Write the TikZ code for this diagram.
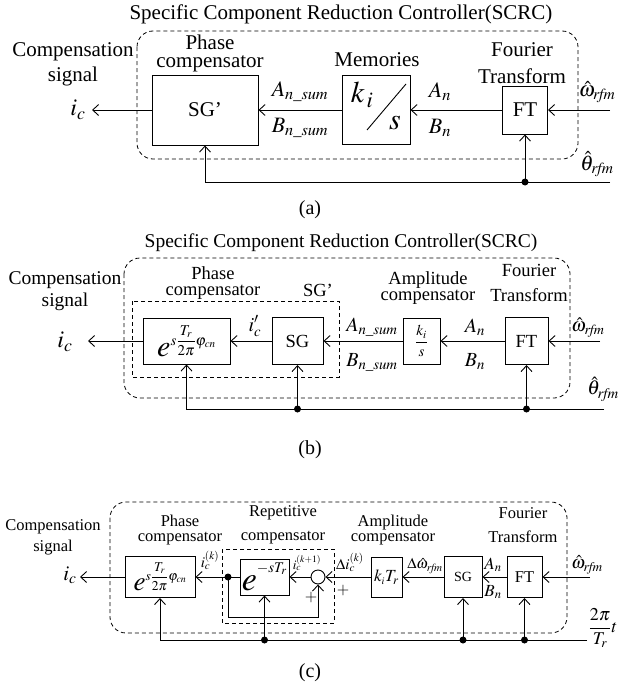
\documentclass[tikz,border=0pt]{standalone}
\usepackage{amsmath}
\usepackage{mathptmx}
\usepackage{fontspec}
\setmainfont{Liberation Serif}
\usetikzlibrary{arrows.meta}
\tikzstyle{block} = [rectangle, draw, line width=1pt, inner sep=0pt]
\tikzstyle{line} = [draw, line width=0.9pt, -{Straight Barb[length=6pt,width=11pt]}]
\tikzstyle{wire} = [draw, line width=0.9pt]
\tikzstyle{frame} = [draw, line width=0.8pt, dash pattern=on 4pt off 3pt, rounded corners=16pt]
\tikzstyle{subframe} = [draw, line width=0.8pt, dash pattern=on 4pt off 3pt]
\tikzstyle{dot} = [circle, fill, inner sep=0pt, minimum size=7pt]
\tikzstyle{lbl} = [inner sep=0pt, align=center]
\newcommand{\sizeA}{\fontsize{21}{18}\selectfont}
\newcommand{\sizeB}{\fontsize{18.5}{16}\selectfont}
\newcommand{\sizeC}{\fontsize{16.5}{15}\selectfont}
\newcommand{\sub}[1]{\mathit{#1}}

\begin{document}
\begin{tikzpicture}[x=1pt, y=-1pt]
  \useasboundingbox (0,0) rectangle (622,688);

  % ---------- (a) ----------
  \draw [frame] (137,31) rectangle (578,159);
  \node [lbl, font=\fontsize{21}{21}\selectfont] (titleA) at (341,14) {Specific Component Reduction Controller(SCRC)};
  % nodes
  \node [block, minimum width=45pt, minimum height=48pt, font=\sizeA] (ftA) at (525,110) {FT};
  \node [block, minimum width=68pt, minimum height=69pt, left of=ftA, node distance=149pt] (memA) {};
  \node [block, minimum width=106pt, minimum height=70pt, left of=memA, node distance=171pt, font=\sizeA] (sgA) {SG'};
  \node [lbl, font=\fontsize{30}{30}\selectfont] (kiA) at (362,95) {$k_{\,i}$};
  \node [lbl, font=\fontsize{30}{30}\selectfont] (sA) at (395,123) {$s$};
  \draw [wire] (367,130) -- (406,84);
  % labels
  \node [lbl, font=\fontsize{21}{25}\selectfont] (compA) at (73,64) {Compensation\\signal};
  \node [lbl, font=\sizeA] (phaseLblA) at (210,53) {Phase\\compensator};
  \node [lbl, font=\sizeA] (memLblA) at (377,60) {Memories};
  \node [lbl, font=\fontsize{21}{27}\selectfont] (fourLblA) at (522,63) {Fourier\\Transform};
  \node [lbl, font=\fontsize{24}{24}\selectfont] (icA) at (78,110) {$i_c$};
  \node [lbl, font=\fontsize{22}{22}\selectfont] (AsumA) at (300,92) {$A_{n\_\sub{sum}}$};
  \node [lbl, font=\fontsize{22}{22}\selectfont] (BsumA) at (300,128) {$B_{n\_\sub{sum}}$};
  \node [lbl, font=\fontsize{22}{22}\selectfont] (AnA) at (440,92) {$A_n$};
  \node [lbl, font=\fontsize{22}{22}\selectfont] (BnA) at (440,128) {$B_n$};
  \node [lbl, font=\fontsize{21}{21}\selectfont] (omA) at (597,92) {$\hat{\omega}_{\sub{rfm}}$};
  \node [lbl, font=\fontsize{21}{21}\selectfont] (thA) at (597,164) {$\hat{\theta}_{\sub{rfm}}$};
  \node [lbl, font=\fontsize{20}{20}\selectfont] (capA) at (310,210) {(a)};
  % edges
  \coordinate (outA) at (92,110);
  \coordinate (inA) at (610,110);
  \coordinate (angA) at (610,182);
  \coordinate (jA) at (525,182);
  \path [line] (inA) -- (ftA);
  \path [line] (ftA) -- (memA);
  \path [line] (memA) -- (sgA);
  \path [line] (sgA) -- (outA);
  \path [line] (angA) -- (sgA.south |- angA) -- (sgA.south);
  \path [line] (jA) -- (ftA.south);
  \node [dot] (dotA) at (jA) {};

  % ---------- (b) ----------
  \draw [frame] (124,258) rectangle (570,398);
  \draw [subframe] (132,301) rectangle (339,377);
  \node [lbl, font=\fontsize{19.5}{19.5}\selectfont] (titleB) at (341,243) {Specific Component Reduction Controller(SCRC)};
  % nodes
  \node [block, minimum width=43pt, minimum height=47pt, font=\sizeB] (ftB) at (526.5,341) {FT};
  \node [block, minimum width=37pt, minimum height=46pt, left of=ftB, node distance=105pt, font=\fontsize{15}{15}\selectfont] (ampB) {$\dfrac{k_i}{s}$};
  \node [block, minimum width=51pt, minimum height=47pt, left of=ampB, node distance=124pt, font=\sizeB] (sgB) {SG};
  \node [block, minimum width=87pt, minimum height=46pt, left of=sgB, node distance=111pt] (phB)
    {\raisebox{-10pt}{\fontsize{30}{30}\selectfont$e$}\raisebox{1pt}{\fontsize{15}{15}\selectfont$s\dfrac{T_r}{2\pi}\varphi_{\sub{cn}}$}};
  % labels
  \node [lbl, font=\fontsize{19.5}{22}\selectfont] (compB) at (65,291) {Compensation\\signal};
  \node [lbl, font=\sizeB] (phaseLblB) at (213,283) {Phase\\compensator};
  \node [lbl, font=\sizeB] (sgLblB) at (318,290) {SG'};
  \node [lbl, font=\sizeB] (ampLblB) at (428,288) {Amplitude\\compensator};
  \node [lbl, font=\fontsize{18.5}{25}\selectfont] (fourLblB) at (529,283) {Fourier\\Transform};
  \node [lbl, font=\fontsize{24}{24}\selectfont] (icB) at (65,342) {$i_c$};
  \node [lbl, font=\fontsize{20}{20}\selectfont] (icpB) at (255,326) {$i_c^{\prime}$};
  \node [lbl, font=\fontsize{20}{20}\selectfont] (AsumB) at (372,327) {$A_{n\_\sub{sum}}$};
  \node [lbl, font=\fontsize{20}{20}\selectfont] (BsumB) at (372,362) {$B_{n\_\sub{sum}}$};
  \node [lbl, font=\fontsize{20}{20}\selectfont] (AnB) at (475,327) {$A_n$};
  \node [lbl, font=\fontsize{20}{20}\selectfont] (BnB) at (475,362) {$B_n$};
  \node [lbl, font=\fontsize{19}{19}\selectfont] (omB) at (588,328) {$\hat{\omega}_{\sub{rfm}}$};
  \node [lbl, font=\fontsize{20}{20}\selectfont] (thB) at (603,389) {$\hat{\theta}_{\sub{rfm}}$};
  \node [lbl, font=\fontsize{20}{20}\selectfont] (capB) at (310,450) {(b)};
  % edges
  \coordinate (outB) at (88,341);
  \coordinate (inB) at (600,341);
  \coordinate (angB) at (604,409);
  \coordinate (j1B) at (sgB.south |- angB);
  \coordinate (j2B) at (ftB.south |- angB);
  \path [line] (inB) -- (ftB);
  \path [line] (ftB) -- (ampB);
  \path [line] (ampB) -- (sgB);
  \path [line] (sgB) -- (phB);
  \path [line] (phB) -- (outB);
  \path [line] (angB) -- (phB.south |- angB) -- (phB.south);
  \path [line] (j1B) -- (sgB.south);
  \path [line] (j2B) -- (ftB.south);
  \node [dot] (dot1B) at (j1B) {};
  \node [dot] (dot2B) at (j2B) {};

  % ---------- (c) ----------
  \draw [frame] (110,502) rectangle (567,633);
  \draw [subframe] (222,549) rectangle (334,623);
  % nodes
  \node [block, minimum width=35pt, minimum height=41pt, font=\sizeC] (ftC) at (524.5,577) {FT};
  \node [block, minimum width=38pt, minimum height=41pt, left of=ftC, node distance=61.5pt, font=\fontsize{14}{14}\selectfont] (sgC) {SG};
  \node [block, minimum width=31pt, minimum height=40pt, left of=sgC, node distance=76.5pt, font=\fontsize{17}{17}\selectfont] (ampC) {$k_{\scriptscriptstyle i}T_r$};
  \node [circle, draw, line width=0.9pt, inner sep=0pt, minimum size=14pt, left of=ampC, node distance=68.5pt] (sumC) {};
  \node [block, minimum width=49pt, minimum height=36pt, left of=sumC, node distance=53.5pt] (delC)
    {\raisebox{-8pt}{\fontsize{34}{34}\selectfont$e$}\raisebox{3pt}{\fontsize{20}{20}\selectfont$^{-sT_r}$}};
  \node [block, minimum width=70pt, minimum height=41pt, left of=delC, node distance=104.5pt] (phC)
    {\raisebox{-9pt}{\fontsize{27}{27}\selectfont$e$}\raisebox{1pt}{\fontsize{13.5}{13.5}\selectfont$s\dfrac{T_r}{2\pi}\varphi_{\sub{cn}}$}};
  % labels
  \node [lbl, font=\fontsize{16.5}{21}\selectfont] (compC) at (53,537) {Compensation\\signal};
  \node [lbl, font=\sizeC] (phaseLblC) at (180,530) {Phase\\compensator};
  \node [lbl, font=\fontsize{16.5}{24}\selectfont] (repLblC) at (283,525) {Repetitive\\compensator};
  \node [lbl, font=\sizeC] (ampLblC) at (393,530) {Amplitude\\compensator};
  \node [lbl, font=\fontsize{16.5}{24}\selectfont] (fourLblC) at (523,525) {Fourier\\Transform};
  \node [lbl, font=\fontsize{21}{21}\selectfont] (icC) at (70,575) {$i_c$};
  \node [lbl, font=\fontsize{15}{15}\selectfont] (ickC) at (210,560) {$i_c^{(k)}$};
  \node [lbl, font=\fontsize{13}{13}\selectfont] (ick1C) at (307,563) {$i_c^{(k+1)}$};
  \node [lbl, font=\fontsize{15}{15}\selectfont] (dickC) at (350,562) {$\Delta i_c^{(k)}$};
  \node [lbl, font=\fontsize{15}{15}\selectfont] (domC) at (425,566) {$\Delta\hat{\omega}_{\sub{rfm}}$};
  \node [lbl, font=\fontsize{17}{17}\selectfont] (AnC) at (493,565) {$A_n$};
  \node [lbl, font=\fontsize{17}{17}\selectfont] (BnC) at (493,592) {$B_n$};
  \node [lbl, font=\fontsize{18}{18}\selectfont] (omC) at (587,565) {$\hat{\omega}_{\sub{rfm}}$};
  \node [lbl, font=\fontsize{18}{18}\selectfont] (tC) at (603,628) {$\dfrac{2\pi}{T_r}t$};
  \node [lbl, font=\fontsize{16}{16}\selectfont] (plus1C) at (311,597) {$+$};
  \node [lbl, font=\fontsize{16}{16}\selectfont] (plus2C) at (343,590) {$+$};
  \node [lbl, font=\fontsize{20}{20}\selectfont] (capC) at (310,673) {(c)};
  % edges
  \coordinate (outC) at (80,577);
  \coordinate (inC) at (590,577);
  \coordinate (splitC) at (228,577);
  \coordinate (fbC) at (228,617);
  \coordinate (angC) at (587,640);
  \coordinate (j1C) at (delC.south |- angC);
  \coordinate (j2C) at (sgC.south |- angC);
  \coordinate (j3C) at (ftC.south |- angC);
  \path [line] (inC) -- (ftC);
  \path [line] (ftC) -- (sgC);
  \path [line] (sgC) -- (ampC);
  \path [line] (ampC) -- (sumC);
  \path [line] (sumC) -- (delC);
  \path [line] (delC) -- (phC);
  \path [line] (phC) -- (outC);
  \path [line] (splitC) -- (fbC) -- (fbC -| sumC) -- (sumC.south);
  \path [line] (angC) -- (phC.south |- angC) -- (phC.south);
  \path [line] (j1C) -- (delC.south);
  \path [line] (j2C) -- (sgC.south);
  \path [line] (j3C) -- (ftC.south);
  \node [dot] (splitDotC) at (splitC) {};
  \node [dot] (dot1C) at (j1C) {};
  \node [dot] (dot2C) at (j2C) {};
  \node [dot] (dot3C) at (j3C) {};
\end{tikzpicture}
\end{document}
